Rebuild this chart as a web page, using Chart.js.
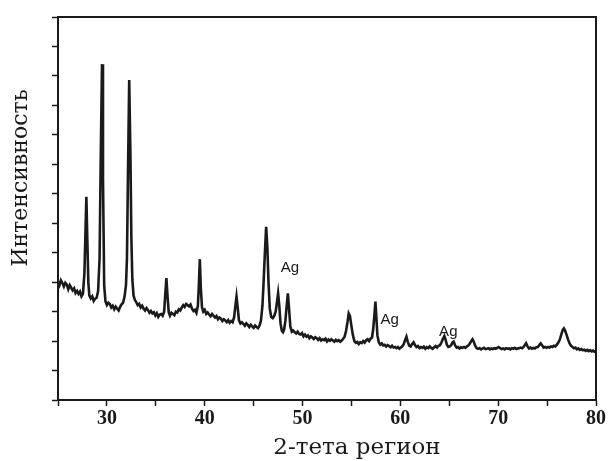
<!DOCTYPE html>
<html>
<head>
<meta charset="utf-8">
<script src="https://cdn.jsdelivr.net/npm/chart.js@4.4.0/dist/chart.umd.min.js"></script>
<style>
  html, body { margin: 0; padding: 0; background: #fff; }
  canvas { display: block; }
</style>
</head>
<body>
<canvas id="xrd" width="608" height="461"></canvas>
<script>
// ── data: 2-theta (deg) and intensity (arb. units) ──
const twoTheta = [
  25.0, 25.15, 25.3, 25.45, 25.6, 25.75, 25.9, 26.05, 26.2, 26.35,
  26.5, 26.65, 26.8, 26.95, 27.1, 27.25, 27.4, 27.55, 27.7, 27.8,
  27.9, 28.0, 28.1, 28.2, 28.35, 28.5, 28.65, 28.8, 28.95, 29.1,
  29.25, 29.38, 29.5, 29.6, 29.72, 29.85, 30.0, 30.15, 30.3, 30.45,
  30.6, 30.75, 30.9, 31.05, 31.2, 31.35, 31.5, 31.65, 31.8, 31.95,
  32.05, 32.15, 32.28, 32.4, 32.5, 32.6, 32.72, 32.85, 33.0, 33.15,
  33.3, 33.45, 33.6, 33.75, 33.9, 34.05, 34.2, 34.35, 34.5, 34.65,
  34.8, 34.95, 35.1, 35.25, 35.4, 35.55, 35.7, 35.85, 35.95, 36.08,
  36.2, 36.32, 36.45, 36.6, 36.75, 36.9, 37.05, 37.2, 37.35, 37.5,
  37.65, 37.8, 37.95, 38.1, 38.25, 38.4, 38.55, 38.7, 38.85, 39.0,
  39.15, 39.3, 39.4, 39.5, 39.6, 39.72, 39.85, 40.0, 40.15, 40.3,
  40.45, 40.6, 40.75, 40.9, 41.05, 41.2, 41.35, 41.5, 41.65, 41.8,
  41.95, 42.1, 42.25, 42.4, 42.55, 42.7, 42.85, 43.0, 43.12, 43.25,
  43.38, 43.5, 43.65, 43.8, 43.95, 44.1, 44.25, 44.4, 44.55, 44.7,
  44.85, 45.0, 45.15, 45.3, 45.45, 45.6, 45.75, 45.9, 46.02, 46.15,
  46.28, 46.4, 46.52, 46.65, 46.8, 46.95, 47.1, 47.25, 47.38, 47.5,
  47.62, 47.75, 47.88, 48.0, 48.12, 48.25, 48.38, 48.5, 48.62, 48.75,
  48.9, 49.05, 49.2, 49.35, 49.5, 49.65, 49.8, 49.95, 50.1, 50.25,
  50.4, 50.55, 50.7, 50.85, 51.0, 51.15, 51.3, 51.45, 51.6, 51.75,
  51.9, 52.05, 52.2, 52.35, 52.5, 52.65, 52.8, 52.95, 53.1, 53.25,
  53.4, 53.55, 53.7, 53.85, 54.0, 54.15, 54.3, 54.45, 54.6, 54.72,
  54.85, 55.0, 55.15, 55.3, 55.45, 55.6, 55.75, 55.9, 56.05, 56.2,
  56.35, 56.5, 56.65, 56.8, 56.95, 57.1, 57.22, 57.35, 57.45, 57.55,
  57.65, 57.8, 57.95, 58.1, 58.25, 58.4, 58.55, 58.7, 58.85, 59.0,
  59.15, 59.3, 59.45, 59.6, 59.75, 59.9, 60.05, 60.2, 60.35, 60.5,
  60.62, 60.75, 60.9, 61.05, 61.2, 61.35, 61.5, 61.65, 61.8, 61.95,
  62.1, 62.25, 62.4, 62.55, 62.7, 62.85, 63.0, 63.15, 63.3, 63.45,
  63.6, 63.75, 63.9, 64.05, 64.2, 64.35, 64.5, 64.62, 64.75, 64.9,
  65.05, 65.2, 65.35, 65.45, 65.6, 65.75, 65.9, 66.05, 66.2, 66.35,
  66.5, 66.65, 66.8, 66.95, 67.1, 67.25, 67.38, 67.5, 67.65, 67.8,
  67.95, 68.1, 68.25, 68.4, 68.55, 68.7, 68.85, 69.0, 69.15, 69.3,
  69.45, 69.6, 69.75, 69.9, 70.05, 70.2, 70.35, 70.5, 70.65, 70.8,
  70.95, 71.1, 71.25, 71.4, 71.55, 71.7, 71.85, 72.0, 72.15, 72.3,
  72.45, 72.6, 72.75, 72.85, 73.0, 73.15, 73.3, 73.45, 73.6, 73.75,
  73.9, 74.05, 74.2, 74.35, 74.5, 74.65, 74.8, 74.95, 75.1, 75.25,
  75.4, 75.55, 75.7, 75.85, 76.0, 76.15, 76.3, 76.45, 76.6, 76.72,
  76.85, 77.0, 77.15, 77.3, 77.45, 77.6, 77.75, 77.9, 78.05, 78.2,
  78.35, 78.5, 78.65, 78.8, 78.95, 79.1, 79.25, 79.4, 79.55, 79.7,
  79.85, 80.0
];
const intensity = [
  4.02, 3.9, 4.06, 3.97, 3.85, 3.98, 3.92, 3.76, 3.9, 3.81,
  3.72, 3.79, 3.63, 3.7, 3.6, 3.68, 3.52, 3.6, 4.3, 5.6,
  6.9, 5.4, 4.0, 3.55, 3.45, 3.52, 3.36, 3.44, 3.47, 3.7,
  4.8, 8.5, 11.4, 7.5, 3.9, 3.35, 3.22, 3.3, 3.26, 3.14,
  3.2, 3.08, 3.17, 3.1, 3.04, 3.16, 3.25, 3.3, 3.5, 3.9,
  4.8, 7.6, 10.86, 8.4, 5.5, 4.1, 3.55, 3.4, 3.32, 3.22,
  3.26, 3.14, 3.2, 3.1, 3.04, 3.12, 3.05, 2.96, 3.02, 2.94,
  2.98, 2.87, 2.95, 2.82, 2.9, 2.92, 2.86, 3.0, 3.5, 4.14,
  3.5, 2.98, 2.86, 2.96, 2.92, 2.88, 3.0, 2.97, 3.08, 3.04,
  3.14, 3.22, 3.16, 3.26, 3.22, 3.18, 3.24, 3.1, 3.02, 3.06,
  2.96, 3.2, 3.9, 4.78, 3.8, 3.15, 3.0, 3.06, 2.92, 2.97,
  2.9, 2.84, 2.92, 2.86, 2.8, 2.85, 2.74, 2.8, 2.76, 2.68,
  2.74, 2.7, 2.64, 2.71, 2.62, 2.68, 2.64, 2.8, 3.15, 3.51,
  3.1, 2.7, 2.6, 2.64, 2.58, 2.52, 2.6, 2.55, 2.48, 2.55,
  2.5, 2.45, 2.53, 2.48, 2.44, 2.52, 2.7, 3.2, 4.0, 5.0,
  5.88, 5.2, 4.0, 3.1, 2.82, 2.78, 2.85, 3.0, 3.3, 3.62,
  3.2, 2.6, 2.35, 2.3, 2.4, 2.7, 3.2, 3.62, 3.1, 2.5,
  2.32, 2.36, 2.3, 2.26, 2.32, 2.24, 2.22, 2.27, 2.16, 2.22,
  2.15, 2.19, 2.1, 2.16, 2.12, 2.07, 2.13, 2.1, 2.04, 2.1,
  2.02, 2.06, 2.03, 2.08, 1.99, 2.05, 2.01, 2.06, 2.02, 1.98,
  2.04, 2.0, 2.03, 1.98, 2.02, 2.08, 2.15, 2.35, 2.65, 2.94,
  2.85, 2.5, 2.2, 2.0, 1.94, 1.97, 1.9, 1.96, 1.93, 2.0,
  1.95, 2.03, 2.06, 2.0, 2.08, 2.12, 2.4, 2.9, 3.34, 2.8,
  2.2, 1.95, 1.88, 1.92, 1.85, 1.87, 1.81, 1.86, 1.83, 1.79,
  1.84, 1.78, 1.8, 1.76, 1.8, 1.74, 1.78, 1.82, 1.9, 2.05,
  2.15, 1.98, 1.85, 1.82, 1.9, 1.96, 1.86, 1.8, 1.83, 1.76,
  1.8, 1.77, 1.81, 1.74, 1.79, 1.76, 1.82, 1.77, 1.74, 1.79,
  1.83, 1.78, 1.84, 1.86, 1.95, 2.08, 2.17, 2.05, 1.88, 1.8,
  1.82, 1.86, 1.96, 1.98, 1.85, 1.78, 1.8, 1.75, 1.79, 1.77,
  1.8, 1.77, 1.82, 1.85, 1.92, 2.0, 2.06, 1.98, 1.84, 1.76,
  1.74, 1.76, 1.72, 1.75, 1.77, 1.73, 1.74, 1.76, 1.72, 1.75,
  1.73, 1.76, 1.74, 1.77, 1.8, 1.76, 1.73, 1.75, 1.72, 1.76,
  1.74, 1.75, 1.72, 1.76, 1.74, 1.77, 1.73, 1.75, 1.76, 1.78,
  1.76, 1.8, 1.88, 1.93, 1.82, 1.75, 1.78, 1.74, 1.77, 1.75,
  1.79, 1.8, 1.86, 1.92, 1.85, 1.78, 1.8, 1.77, 1.8, 1.78,
  1.82, 1.8, 1.84, 1.82, 1.88, 1.95, 2.05, 2.22, 2.38, 2.43,
  2.35, 2.2, 2.05, 1.92, 1.84, 1.8, 1.76, 1.78, 1.72, 1.75,
  1.7, 1.73, 1.69, 1.71, 1.67, 1.7, 1.66, 1.69, 1.65, 1.68,
  1.64, 1.66
];
// peak labels (data coordinates)
const agLabels = ['Ag', 'Ag', 'Ag'];
const agX = [48.7, 58.9, 64.9];
const agY = [4.5, 2.72, 2.32];

const xTitle = '2-тета регион';
const yTitle = 'Интенсивность';

const INK = '#1a1a1a';
const TITLE_FONT = '23px "DejaVu Serif", serif';

// frame round the plot area (top + right sides too)
const framePlugin = {
  id: 'frame',
  afterDraw(chart) {
    const { ctx, chartArea: a } = chart;
    ctx.save();
    ctx.strokeStyle = INK;
    ctx.lineWidth = 2;
    ctx.strokeRect(a.left, a.top, a.right - a.left, a.bottom - a.top);
    ctx.restore();
  }
};

// axis titles: the original sets them off-centre, so draw them by hand
const titlePlugin = {
  id: 'axisTitles',
  afterDraw(chart) {
    const { ctx } = chart;
    ctx.save();
    ctx.fillStyle = INK;
    ctx.font = TITLE_FONT;
    ctx.textAlign = 'center';
    ctx.textBaseline = 'middle';
    ctx.fillText(xTitle, 357, 448);
    ctx.translate(21, 178);
    ctx.rotate(-Math.PI / 2);
    ctx.font = '22px "DejaVu Serif", serif';
    ctx.fillText(yTitle, 0, 0);
    ctx.restore();
  }
};

const agPlugin = {
  id: 'agLabels',
  afterDatasetsDraw(chart) {
    const { ctx, scales } = chart;
    ctx.save();
    ctx.fillStyle = INK;
    ctx.font = '15px "Liberation Sans", Arial, sans-serif';
    ctx.textAlign = 'center';
    ctx.textBaseline = 'middle';
    agLabels.forEach((t, i) => {
      ctx.fillText(t, scales.x.getPixelForValue(agX[i]), scales.y.getPixelForValue(agY[i]));
    });
    ctx.restore();
  }
};

new Chart(document.getElementById('xrd'), {
  type: 'line',
  data: {
    datasets: [{
      data: twoTheta.map((x, i) => ({ x, y: intensity[i] })),
      borderColor: INK,
      borderWidth: 2.6,
      pointRadius: 0,
      tension: 0,
      fill: false
    }]
  },
  options: {
    responsive: false,
    animation: false,
    layout: { padding: { top: 17, right: 12, left: 8, bottom: 0 } },
    plugins: { legend: { display: false }, tooltip: { enabled: false } },
    scales: {
      x: {
        type: 'linear', min: 25, max: 80,
        border: { color: INK, width: 2 },
        grid: { drawOnChartArea: false, drawTicks: true, tickLength: 6, color: INK, tickWidth: 1.5 },
        ticks: {
          stepSize: 5, color: INK, padding: 1, maxRotation: 0,
          font: { family: '"Liberation Serif", "Times New Roman", serif', size: 20, weight: 'bold' },
          callback: v => (v % 10 === 0 ? String(v) : '')
        },
        afterFit(s) { s.height = 61; }
      },
      y: {
        min: 0, max: 13,
        border: { color: INK, width: 2 },
        grid: { drawOnChartArea: false, drawTicks: true, tickLength: 6, color: INK, tickWidth: 1.5 },
        ticks: { display: false, stepSize: 1 },
        afterFit(s) { s.width = 50; }
      }
    }
  },
  plugins: [framePlugin, titlePlugin, agPlugin]
});
</script>
</body>
</html>
